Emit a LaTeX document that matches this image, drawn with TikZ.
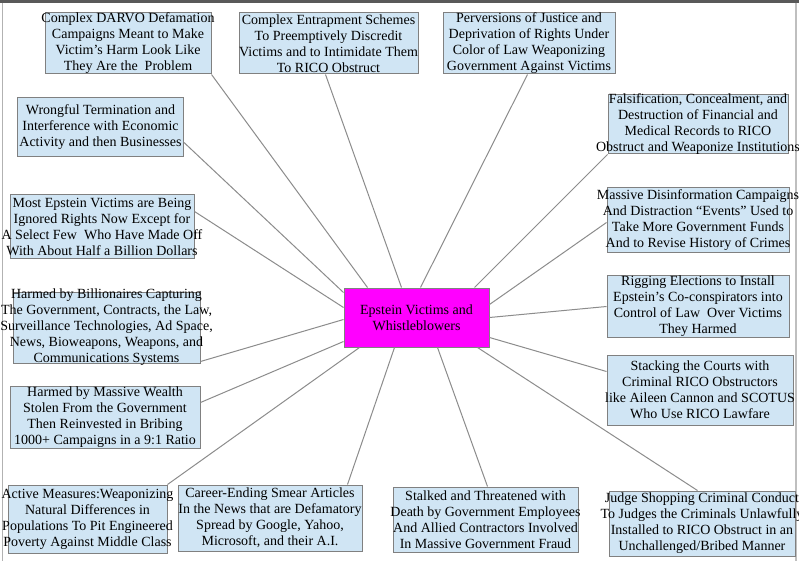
\documentclass[tikz,border=0pt]{standalone}
\usepackage{fontspec}
\setmainfont{Liberation Serif}
\usetikzlibrary{calc}
\definecolor{boxfill}{RGB}{208,229,244}
\definecolor{boxline}{RGB}{128,128,128}
\definecolor{edgecol}{RGB}{140,140,140}
\definecolor{hub}{RGB}{255,0,255}
\tikzset{
  boxnode/.style={draw=boxline, line width=1pt, fill=boxfill, inner sep=0pt, anchor=center},
  lbl/.style={align=center, font=\fontsize{14}{16}\selectfont, inner sep=0pt, anchor=center},
  link/.style={draw=edgecol, line width=1pt},
}
\begin{document}
\begin{tikzpicture}[x=1pt,y=-1pt]
\useasboundingbox (0,0) rectangle (799,561);
\fill[white] (0,0) rectangle (799,561);
% frame
\fill[black!65] (0,0) rectangle (799,3);
\draw[black!30, line width=1.5pt] (2.5,3) -- (2.5,561);
\draw[black!25, line width=2pt] (796,3) -- (796,561);

% boxes
\node[boxnode, minimum width=166pt, minimum height=61pt] (darvo) at (128,43.5) {};
\node[boxnode, minimum width=179pt, minimum height=61pt] (entrap) at (328.5,43.5) {};
\node[boxnode, minimum width=172pt, minimum height=61pt] (perv) at (529,43.5) {};
\node[boxnode, minimum width=180pt, minimum height=59pt] (falsif) at (698,124.5) {};
\node[boxnode, minimum width=166pt, minimum height=59pt] (wrong) at (100.5,127.5) {};
\node[boxnode, minimum width=184pt, minimum height=63pt] (most) at (102,226.5) {};
\node[boxnode, minimum width=182pt, minimum height=64pt] (disinf) at (698,220) {};
\node[boxnode, minimum width=182pt, minimum height=62pt] (rigging) at (698,306) {};
\node[boxnode, minimum width=186pt, minimum height=70pt] (stacking) at (700,390) {};
\node[boxnode, minimum width=187pt, minimum height=71pt] (billion) at (106.5,327.5) {};
\node[boxnode, minimum width=190pt, minimum height=62pt] (wealth) at (105,417) {};
\node[boxnode, minimum width=159pt, minimum height=68pt] (active) at (87.5,519) {};
\node[boxnode, minimum width=184pt, minimum height=66pt] (career) at (270,518) {};
\node[boxnode, minimum width=185pt, minimum height=65pt] (stalked) at (485.5,519.5) {};
\node[boxnode, minimum width=186pt, minimum height=65pt] (judge) at (702,523.5) {};
\node[draw=boxline, line width=1pt, fill=hub, minimum width=145pt, minimum height=59pt, inner sep=0pt] (c) at (416.5,317.5) {};

% connectors
\draw[link] (darvo.south east) -- ($(c.north west)+(24,0)$);
\draw[link] ($(entrap.south west)+(87,0)$) -- ($(c.north west)+(58,0)$);
\draw[link] ($(perv.south west)+(85,0)$) -- ($(c.north west)+(77,0)$);
\draw[link] (falsif.south west) -- ($(c.north west)+(131,0)$);
\draw[link] ($(wrong.south east)+(0,-15)$) -- ($(c.north west)+(0,5)$);
\draw[link] ($(most.north east)+(0,17)$) -- ($(c.north west)+(0,20)$);
\draw[link] ($(billion.south east)+(0,-2)$) -- ($(c.north west)+(0,32)$);
\draw[link] ($(wealth.north east)+(0,17)$) -- ($(c.south west)+(0,-6)$);
\draw[link] (active.north east) -- ($(c.south west)+(16,0)$);
\draw[link] ($(career.north east)+(-15,0)$) -- ($(c.south west)+(51,0)$);
\draw[link] ($(stalked.north west)+(95,0)$) -- ($(c.south west)+(94,0)$);
\draw[link] ($(judge.north west)+(89,0)$) -- ($(c.south west)+(134,0)$);
\draw[link] ($(disinf.north west)+(0,35)$) -- ($(c.north east)+(0,17)$);
\draw[link] ($(rigging.north west)+(0,32)$) -- ($(c.north east)+(0,30)$);
\draw[link] ($(stacking.north west)+(0,17)$) -- ($(c.north east)+(0,50)$);

% labels
\node[lbl] (darvoT) at (darvo) {Complex DARVO Defamation\\Campaigns Meant to Make\\Victim's Harm Look Like\\They Are the\ \ Problem};
\node[lbl] (entrapT) at (entrap) {Complex Entrapment Schemes\\To Preemptively Discredit\\Victims and to Intimidate Them\\To RICO Obstruct};
\node[lbl] (pervT) at (perv) {Perversions of Justice and\\Deprivation of Rights Under\\Color of Law Weaponizing\\Government Against Victims};
\node[lbl] (falsifT) at (falsif) {Falsification, Concealment, and\\Destruction of Financial and\\Medical Records to RICO\\Obstruct and Weaponize Institutions};
\node[lbl] (wrongT) at (wrong) {Wrongful Termination and\\Interference with Economic\\Activity and then Businesses};
\node[lbl] (mostT) at (most) {Most Epstein Victims are Being\\Ignored Rights Now Except for\\A Select Few\ \ Who Have Made Off\\With About Half a Billion Dollars};
\node[lbl] (disinfT) at (disinf) {Massive Disinformation Campaigns\\And Distraction ``Events'' Used to\\Take More Government Funds\\And to Revise History of Crimes};
\node[lbl] (riggingT) at (rigging) {Rigging Elections to Install\\Epstein's Co-conspirators into\\Control of Law\ \ Over Victims\\They Harmed};
\node[lbl] (stackingT) at (stacking) {Stacking the Courts with\\Criminal RICO Obstructors\\like Aileen Cannon and SCOTUS\\Who Use RICO Lawfare};
\node[lbl] (billionT) at (billion) {Harmed by Billionaires Capturing\\The Government, Contracts, the Law,\\Surveillance Technologies, Ad Space,\\News, Bioweapons, Weapons, and\\Communications Systems};
\node[lbl] (wealthT) at (wealth) {Harmed by Massive Wealth\\Stolen From the Government\\Then Reinvested in Bribing\\1000+ Campaigns in a 9:1 Ratio};
\node[lbl] (activeT) at (active) {Active Measures:Weaponizing\\Natural Differences in\\Populations To Pit Engineered\\Poverty Against Middle Class};
\node[lbl] (careerT) at (career) {Career-Ending Smear Articles\\In the News that are Defamatory\\Spread by Google, Yahoo,\\Microsoft, and their A.I.};
\node[lbl] (stalkedT) at (stalked) {Stalked and Threatened with\\Death by Government Employees\\And Allied Contractors Involved\\In Massive Government Fraud};
\node[lbl] (judgeT) at (judge) {Judge Shopping Criminal Conduct\\To Judges the Criminals Unlawfully\\Installed to RICO Obstruct in an\\Unchallenged/Bribed Manner};
\node[lbl] (cT) at (c) {Epstein Victims and\\Whistleblowers};
\end{tikzpicture}
\end{document}
